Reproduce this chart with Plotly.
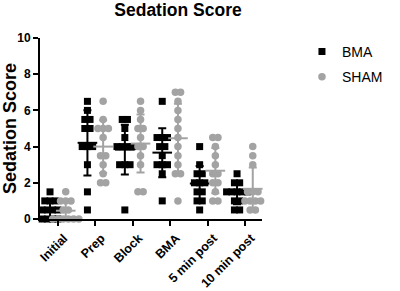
import numpy as np
import plotly.graph_objects as go

categories = ["Initial", "Prep", "Block", "BMA", "5 min post", "10 min post"]
bma_values = [
    [0, 0, 0, 0.5, 0.5, 0.5, 1, 1, 1, 1.5, 0, 0.5],
    [6.5, 6, 5.5, 5.5, 5, 5, 4, 4, 4, 3, 1.5, 0.5],
    [5.5, 5.5, 5, 4.5, 4, 4, 4, 4, 3, 3, 3, 0.5],
    [6.5, 4.5, 4.5, 4.5, 4, 4, 3.5, 3, 3, 3, 2.5, 1],
    [4, 3, 2.5, 2.5, 2, 2, 2, 1.5, 1.5, 1, 1, 0.5],
    [2.5, 2, 2, 1.5, 1.5, 1.5, 1.5, 1.5, 1, 1, 0.5, 0.5],
]
sham_values = [
    [0, 0, 0, 0, 0, 0.5, 0.5, 1, 1, 1, 1.5, 0],
    [6.5, 5.5, 5, 5, 5, 4.5, 3.5, 3.5, 3, 2.5, 2, 2],
    [6.5, 6, 5.5, 5, 5, 4.5, 4, 4, 3.5, 3, 1.5, 1.5],
    [7, 7, 6.5, 6, 5.5, 5, 4.5, 4, 3.5, 3, 2.5, 2.5, 1],
    [4.5, 4.5, 4, 3.5, 3, 2.5, 2.5, 2, 2, 1.5, 1, 1],
    [4, 3.5, 3, 1.5, 1.5, 1.5, 1, 1, 1, 1, 0.5, 0.5],
]
yticks = [0, 2, 4, 6, 8, 10]

FONT = "Liberation Sans, Arial, sans-serif"
GREY = "#a3a3a3"
OFF = 0.21
SPREAD = 0.14


def positions(groups, shift):
    xs, ys = [], []
    for i, vals in enumerate(groups):
        counts = {}
        for v in vals:
            counts[v] = counts.get(v, 0) + 1
        seen = {}
        for v in vals:
            k = counts[v]
            j = seen.get(v, 0)
            seen[v] = j + 1
            xs.append(i + shift + (j - (k - 1) / 2) * SPREAD)
            ys.append(v)
    return xs, ys


fig = go.Figure()

for groups, shift, color, symbol, name, lg in [
    (bma_values, -OFF, "black", "square", "BMA", "a"),
    (sham_values, OFF, GREY, "circle", "SHAM", "b"),
]:
    xs, ys = positions(groups, shift)
    fig.add_trace(go.Scatter(
        x=xs, y=ys, mode="markers", name=name, legendgroup=lg,
        marker=dict(symbol=symbol, color=color, size=7 if symbol == "square" else 7.5,
                    line=dict(width=0)),
        cliponaxis=False,
    ))
    means = [float(np.mean(v)) for v in groups]
    sds = [float(np.std(v, ddof=1)) for v in groups]
    fig.add_trace(go.Scatter(
        x=[i + shift for i in range(len(groups))], y=means, mode="markers",
        showlegend=False, legendgroup=lg,
        marker=dict(symbol="line-ew", size=14, line=dict(width=2, color=color)),
        error_y=dict(type="data", array=sds, visible=True, color=color,
                     thickness=2, width=4),
        cliponaxis=False,
    ))

fig.update_layout(
    width=400, height=291,
    margin=dict(l=40, r=87, t=38, b=72),
    paper_bgcolor="white", plot_bgcolor="white",
    font=dict(family=FONT, color="black"),
    title=dict(text="<b>Sedation Score</b>", x=0.445, xanchor="center",
               y=0.966, yanchor="middle", font=dict(size=17.5, family=FONT)),
    legend=dict(x=1.18, y=1.012, xanchor="left", yanchor="top",
                font=dict(size=14, family=FONT), tracegroupgap=4,
                traceorder="grouped", itemwidth=30),
    showlegend=True,
)
fig.update_xaxes(
    range=[-0.478, 5.457], tickmode="array", tickvals=list(range(len(categories))),
    ticktext=["<b>%s</b>" % c for c in categories], tickangle=-45,
    showline=True, linecolor="black", linewidth=2, ticks="outside",
    tickwidth=2, ticklen=5, tickcolor="black", showgrid=False, zeroline=False,
    tickfont=dict(size=12.5, family=FONT), automargin=False,
    ticklabelshift=6,
)
fig.update_yaxes(
    range=[0, 10], tickmode="array", tickvals=yticks,
    ticktext=["<b>%d</b>" % t for t in yticks],
    showline=True, linecolor="black", linewidth=2, ticks="outside",
    tickwidth=2, ticklen=5, tickcolor="black", showgrid=False, zeroline=False,
    tickfont=dict(size=12, family=FONT), automargin=False,
    title=dict(text="<b>Sedation Score</b>", font=dict(size=18, family=FONT), standoff=3),
)

fig.write_html("out.html", config={"displayModeBar": False},
               post_script="document.body.style.margin='0px';")
